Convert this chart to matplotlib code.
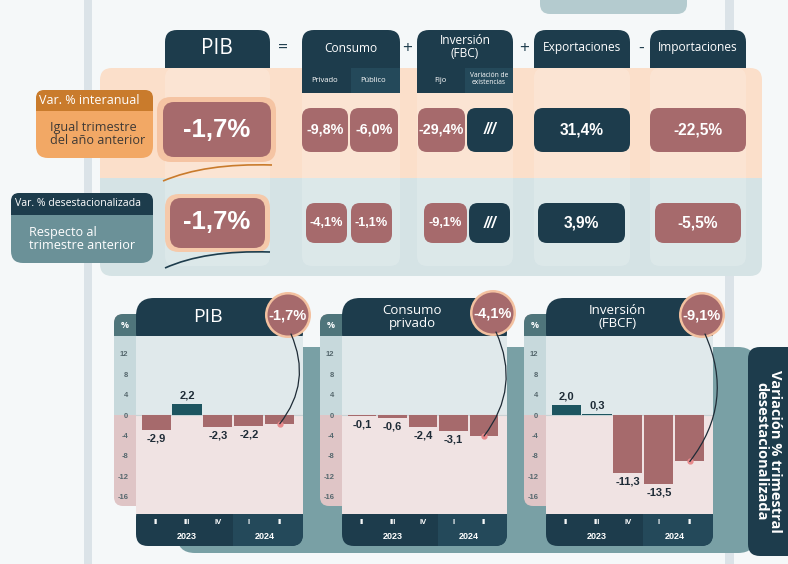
import matplotlib
matplotlib.use("Agg")
import matplotlib.pyplot as plt
from matplotlib.patches import FancyBboxPatch, Rectangle, Circle, ConnectionPatch, PathPatch
from matplotlib.path import Path

plt.rcParams['font.family'] = ['Open Sans', 'DejaVu Sans']

# ---- data ----
components = ["PIB", "Consumo", "Inversión\n(FBC)", "Exportaciones", "Importaciones"]
operators = ["=", "+", "+", "-"]
sub_consumo = ["Privado", "Público"]
sub_inversion = ["Fijo", "Variación de\nexistencias"]
row_heads = ["Var. % interanual", "Var. % desestacionalizada"]
row_texts = ["Igual trimestre\ndel año anterior", "Respecto al\ntrimestre anterior"]

# PIB, C. privado, C. público, Inv. fijo, Var. existencias, Expo, Impo
interanual = [-1.7, -9.8, -6.0, -29.4, None, 31.4, -22.5]
desest = [-1.7, -4.1, -1.1, -9.1, None, 3.9, -5.5]

quarters = ["II", "III", "IV", "I", "II"]
years = ["2023", "2024"]
pib_q = [-2.9, 2.2, -2.3, -2.2, -1.7]
consumo_q = [-0.1, -0.6, -2.4, -3.1, -4.1]
inversion_q = [2.0, 0.3, -11.3, -13.5, -9.1]
panel_titles = ["PIB", "Consumo\nprivado", "Inversión\n(FBCF)"]
yticks = [12, 8, 4, 0, -4, -8, -12, -16]
side_title = "Variación % trimestral\ndesestacionalizada"

# ---- colours ----
DARK = "#1d3c4c"
DARK2 = "#24495a"
ROSE = "#a66a6c"
PEACH = "#f5c4a3"
TEALD = "#1d5560"


def fmt(v):
    if v is None:
        return "///"
    return f"{v:.1f}".replace(".", ",") + "%"


def rbox(ax, x0, y0, x1, y1, color, r=8, z=1, alpha=1.0):
    p = FancyBboxPatch((x0, y0), x1 - x0, y1 - y0,
                       boxstyle=f"round,pad=0,rounding_size={r}",
                       fc=color, ec="none", zorder=z, alpha=alpha)
    ax.add_patch(p)
    return p


def rect(ax, x0, y0, x1, y1, color, z=1):
    ax.add_patch(Rectangle((x0, y0), x1 - x0, y1 - y0, fc=color, ec="none", zorder=z))


fig = plt.figure(figsize=(7.88, 5.64), dpi=100)
fig.patch.set_facecolor("#f5f8f9")
bg = fig.add_axes([0, 0, 1, 1], zorder=0)
bg.set_xlim(0, 788)
bg.set_ylim(564, 0)
bg.axis("off")

# background stripes and top box
rect(bg, 84, 0, 92, 564, "#dbe3e8")
rect(bg, 725, 0, 734, 564, "#dbe3e8")
rbox(bg, 540, -15, 687, 14, "#b4cbcf", r=10)

# bands
rbox(bg, 100, 68, 762, 200, "#fbdfca", r=12)
rbox(bg, 100, 178, 762, 276, "#d5e3e5", r=12, z=1.1)
rect(bg, 100, 178, 762, 200, "#d5e3e5", z=1.1)

cols = [(165, 270), (302, 400), (417, 513), (534, 630), (650, 746)]
for x0, x1 in cols:
    rbox(bg, x0, 68, x1, 266, "white", r=10, z=1.2, alpha=0.18)

# header tabs
for k, (x0, x1) in enumerate(cols):
    y1 = 93 if k in (1, 2) else 68
    rbox(bg, x0, 30, x1, y1, DARK, r=12, z=2)
    rect(bg, x0, 50, x1, y1, DARK, z=2)
    if k in (1, 2):
        xm = (x0 + x1) / 2
        rect(bg, xm, 68, x1, 93, DARK2, z=2.1)
bg.text(217, 48, components[0], color="white", size=15, ha="center", va="center", zorder=3)
for k in range(1, 5):
    x0, x1 = cols[k]
    yy = 47 if k == 2 else 48
    bg.text((x0 + x1) / 2, yy, components[k], color="white", size=8.6, ha="center",
            va="center", linespacing=1.0, zorder=3)
for k, t in enumerate(sub_consumo):
    bg.text([325, 373][k], 80, t, color="white", size=5.5, ha="center", va="center", zorder=3)
bg.text(440, 80, sub_inversion[0], color="white", size=5.5, ha="center", va="center", zorder=3)
bg.text(489, 79, sub_inversion[1], color="white", size=4.8, ha="center", va="center",
        linespacing=0.9, zorder=3)
for t, x in zip(operators, [283, 407, 524, 641]):
    bg.text(x, 49, t, color=DARK, size=12.5, ha="center", va="center", zorder=3)

# left labels
rbox(bg, 36, 90, 153, 158, "#f2a865", r=12, z=2)
rbox(bg, 36, 90, 153, 111, "#c97b2c", r=8, z=2.1)
rect(bg, 36, 100, 153, 111, "#c97b2c", z=2.1)
bg.text(89, 101, row_heads[0], color="white", size=9, ha="center", va="center", zorder=3)
bg.text(50, 134, row_texts[0], color="#3f3a36", size=9.1, ha="left", va="center",
        linespacing=1.0, zorder=3)
rbox(bg, 11, 193, 153, 263, "#6b9198", r=12, z=2)
rbox(bg, 11, 193, 153, 215, DARK, r=8, z=2.1)
rect(bg, 11, 204, 153, 215, DARK, z=2.1)
bg.text(78, 204, row_heads[1], color="white", size=7.6, ha="center", va="center", zorder=3)
bg.text(29, 239, row_texts[1], color="white", size=9.1, ha="left", va="center",
        linespacing=1.0, zorder=3)

# value boxes
row1_cells = [(302, 348), (350, 398), (418, 465), (467, 513), (534, 630), (650, 746)]
row2_cells = [(306, 347), (351, 392), (424, 467), (469, 510), (538, 625), (655, 741)]

rbox(bg, 157, 97, 276, 162, PEACH, r=14, z=2)
rbox(bg, 163, 102, 271, 157, ROSE, r=11, z=2.1)
bg.text(217, 130, fmt(interanual[0]), color="white", size=18.5, weight="bold",
        family="Liberation Sans", ha="center", va="center", zorder=3)
rbox(bg, 165, 194, 270, 252, "#f5c9aa", r=14, z=2)
rbox(bg, 170, 198, 265, 248, ROSE, r=11, z=2.1)
bg.text(217, 222, fmt(desest[0]), color="white", size=18.5, weight="bold",
        family="Liberation Sans", ha="center", va="center", zorder=3)

for vals, cells, (ya, yb), small in [(interanual, row1_cells, (108, 152), 10.3),
                                     (desest, row2_cells, (203, 243), 9.2)]:
    for v, (x0, x1) in zip(vals[1:], cells):
        c = ROSE if (v is not None and v < 0) else DARK
        rbox(bg, x0, ya, x1, yb, c, r=9, z=2)
        sz = 11.2 if (x1 - x0 > 60 or v is None) else small
        bg.text((x0 + x1) / 2, (ya + yb) / 2, fmt(v), color="white", size=sz, weight="bold",
                family="Liberation Sans", ha="center", va="center", zorder=3,
                style="italic" if v is None else "normal")

# decorative curves under PIB
for (p0, pc, p1), c in [(((163, 181), (205, 163), (272, 165)), "#c97b2c"),
                        (((165, 268), (205, 250), (270, 252)), DARK)]:
    bg.add_patch(PathPatch(Path([p0, pc, p1], [Path.MOVETO, Path.CURVE3, Path.CURVE3]),
                           fc="none", ec=c, lw=1.2, zorder=3))

# bottom section
rbox(bg, 177, 347, 756, 553, "#79a0a5", r=18, z=1)
rbox(bg, 748, 347, 800, 556, DARK, r=12, z=2)
bg.text(768, 451, side_title, color="white", size=10.5, weight="bold", rotation=270,
        ha="center", va="center", linespacing=1.0, zorder=3)

ax_top = fig.add_axes([0, 0, 1, 1], zorder=5)
ax_top.set_xlim(0, 788)
ax_top.set_ylim(564, 0)
ax_top.axis("off")

panels = [(114, 136, 303), (320, 342, 507), (524, 546, 713)]
badges = [(288, 315), (493, 313), (702, 315)]
series = [pib_q, consumo_q, inversion_q]
PY0, PY1 = 336, 514
YLO, YHI = -19.4, 15.5
zero_y = PY0 + YHI / (YHI - YLO) * (PY1 - PY0)

for (sx0, px0, px1), (bx, by), vals, title in zip(panels, badges, series, panel_titles):
    # y strip
    rbox(bg, sx0, 314, px0 + 10, 506, "#dfc5c6", r=9, z=2)
    rect(bg, sx0, 325, px0 + 10, zero_y, "#c7d9dc", z=2.1)
    rbox(bg, sx0, 314, px0 + 10, 336, "#4f757b", r=9, z=2.2)
    rect(bg, sx0, 326, px0 + 10, 336, "#4f757b", z=2.2)
    bg.text(sx0 + 11, 326, "%", color="white", size=6.5, weight="bold", ha="center",
            va="center", zorder=3)
    # header
    rbox(bg, px0, 298, px1, 350, DARK, r=18, z=2.3)
    tsize = 14 if title == "PIB" else 9.5
    bg.text((px0 + px1) / 2 - 12, 317, title, color="white", size=tsize, ha="center",
            va="center", linespacing=1.0, zorder=3)

    ax = fig.add_axes([px0 / 788, 1 - PY1 / 564, (px1 - px0) / 788, (PY1 - PY0) / 564], zorder=1)
    ax.set_xlim(-0.65, 4.75)
    ax.set_ylim(YLO, YHI)
    ax.axhspan(0, YHI, color="#e0e9eb", zorder=0)
    ax.axhspan(YLO, 0, color="#f0e3e3", zorder=0)
    ax.axhline(0, color="#c9d3d5", lw=0.8, zorder=1)
    colors = [TEALD if v >= 0 else ROSE for v in vals]
    ax.bar(range(len(vals)), vals, width=0.94, color=colors, zorder=2)
    for j, v in enumerate(vals[:-1]):
        ax.annotate(f"{v:.1f}".replace(".", ","), (j, v), xytext=(0, 2.5 if v >= 0 else -2.5),
                    textcoords="offset points", ha="center", va="bottom" if v >= 0 else "top",
                    size=8, weight="bold", family="Liberation Sans", color="#1e2b36")
    ax.plot(4, vals[-1], "o", color="#e8898b", ms=3.5, zorder=4)
    ax.set_yticks(yticks)
    ax.set_yticklabels([str(t) for t in yticks], weight="bold", family="Liberation Sans")
    ax.tick_params(axis="y", length=0, pad=5.5, labelsize=5.5, labelcolor="#56686e")
    ax.set_xticks([])
    for s in ax.spines.values():
        s.set_visible(False)

    # footer
    xb = bg.transData.inverted().transform(ax.transData.transform((2.5, 0)))[0]
    rbox(bg, px0, 505, px1, 546, DARK, r=12, z=2)
    rbox(bg, xb, 505, px1, 546, DARK2, r=12, z=2.1)
    rect(bg, xb, 505, xb + 15, 546, DARK2, z=2.1)
    tr = ax.get_xaxis_transform()
    for j, q in enumerate(quarters):
        ax.text(j, -0.05, q, transform=tr, color="white", size=5.5, weight="bold",
                family="Liberation Sans", ha="center", va="center", clip_on=False)
    for xx, yr in zip([1, 3.5], years):
        ax.text(xx, -0.124, yr, transform=tr, color="white", size=6.5, weight="bold",
                family="Liberation Sans", ha="center", va="center", clip_on=False)

    # badge
    ax_top.add_patch(Circle((bx, by), 23, fc="#f3c1a0", ec="none"))
    ax_top.add_patch(Circle((bx, by), 20.5, fc=ROSE, ec="none"))
    ax_top.text(bx, by, fmt(vals[-1]), color="white", size=10.5, weight="bold",
                family="Liberation Sans", ha="center", va="center")
    con = ConnectionPatch(xyA=(bx + 3, by + 19), xyB=(4, vals[-1]), coordsA="data",
                          coordsB="data", axesA=ax_top, axesB=ax,
                          connectionstyle="arc3,rad=-0.3", color="#1e2b36", lw=0.9)
    con.set_clip_on(False)
    ax_top.add_artist(con)

fig.savefig("out.png", dpi=100, facecolor=fig.get_facecolor())
